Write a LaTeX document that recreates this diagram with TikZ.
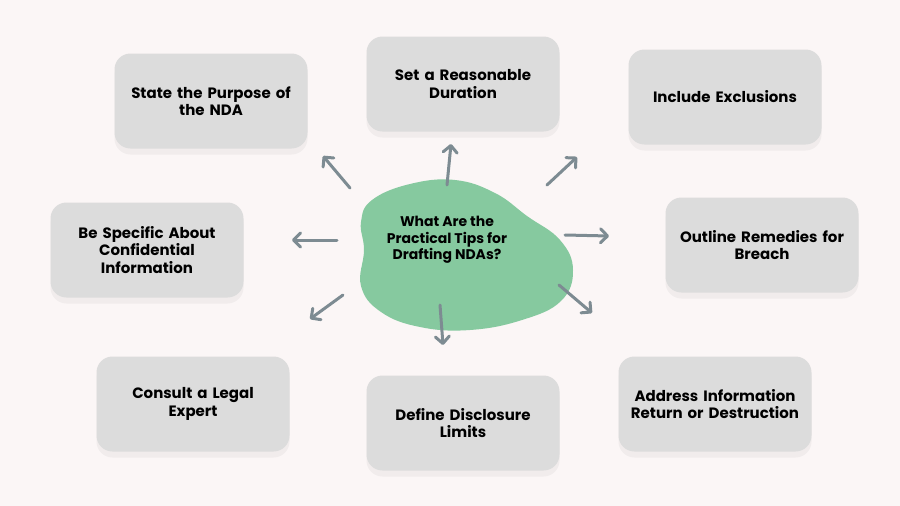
\documentclass[tikz,border=0pt]{standalone}
\usepackage{fontspec}
\setmainfont{Poppins}
\usetikzlibrary{arrows.meta,shadows}

\definecolor{paper}{HTML}{FBF6F6}
\definecolor{tipbox}{HTML}{DCDCDC}
\definecolor{blobgreen}{HTML}{86C99F}
\definecolor{arrowgray}{HTML}{7D8B92}

\tikzset{
  tipnode/.style={fill=tipbox, rounded corners=16pt, minimum width=193pt,
    minimum height=95pt, text width=186pt, align=center,
    font=\fontsize{15}{17.5}\selectfont\bfseries,
    drop shadow={shadow xshift=0pt, shadow yshift=-6pt, opacity=0.10, fill=black!40}},
  pointer/.style={arrowgray, line width=3pt, line cap=round,
    -{Straight Barb[length=7pt, width=14pt, line width=3pt, round]}},
}

\begin{document}
\begin{tikzpicture}[x=1pt,y=-1pt]
  \fill[paper] (0,0) rectangle (900,506);
  \useasboundingbox (0,0) rectangle (900,506);

  % centre blob
  \fill[blobgreen] plot[smooth cycle, tension=0.7] coordinates {
    (372,200) (410,184) (455,180) (495,193) (527,216) (560,240)
    (573,270) (561,301) (522,320) (470,330) (420,327) (381,312)
    (361,286) (364,250) (361,222)};
  \node[align=center, font=\fontsize{14}{16.5}\selectfont\bfseries] (hub) at (447,240)
    {What Are the\\Practical Tips for\\Drafting NDAs?};

  % tips
  \node[tipnode] (purpose)  at (211,101) {State the Purpose of\\the NDA};
  \node[tipnode] (duration) at (463,84)  {Set a Reasonable\\Duration};
  \node[tipnode] (exclude)  at (725,97)  {Include Exclusions};
  \node[tipnode] (specific) at (147,250) {Be Specific About\\Confidential\\Information};
  \node[tipnode] (remedy)   at (762,245) {Outline Remedies for\\Breach};
  \node[tipnode] (expert)   at (193,404) {Consult a Legal\\Expert};
  \node[tipnode] (limits)   at (463,423) {Define Disclosure\\Limits};
  \node[tipnode] (returns)  at (715,404) {Address Information\\Return or Destruction};

  % arrow ends
  \coordinate (pA) at (350,188); \coordinate (pB) at (323,156);
  \coordinate (dA) at (447,185); \coordinate (dB) at (451,144);
  \coordinate (eA) at (547,185); \coordinate (eB) at (577,157);
  \coordinate (sA) at (337,240); \coordinate (sB) at (292,240);
  \coordinate (rA) at (565,235); \coordinate (rB) at (609,236);
  \coordinate (cA) at (343,295); \coordinate (cB) at (310,319);
  \coordinate (lA) at (440,305); \coordinate (lB) at (443,345);
  \coordinate (aA) at (559,285); \coordinate (aB) at (592,313);

  \draw[pointer] (pA) -- (pB);
  \draw[pointer] (dA) -- (dB);
  \draw[pointer] (eA) -- (eB);
  \draw[pointer] (sA) -- (sB);
  \draw[pointer] (rA) -- (rB);
  \draw[pointer] (cA) -- (cB);
  \draw[pointer] (lA) -- (lB);
  \draw[pointer] (aA) -- (aB);
\end{tikzpicture}
\end{document}
